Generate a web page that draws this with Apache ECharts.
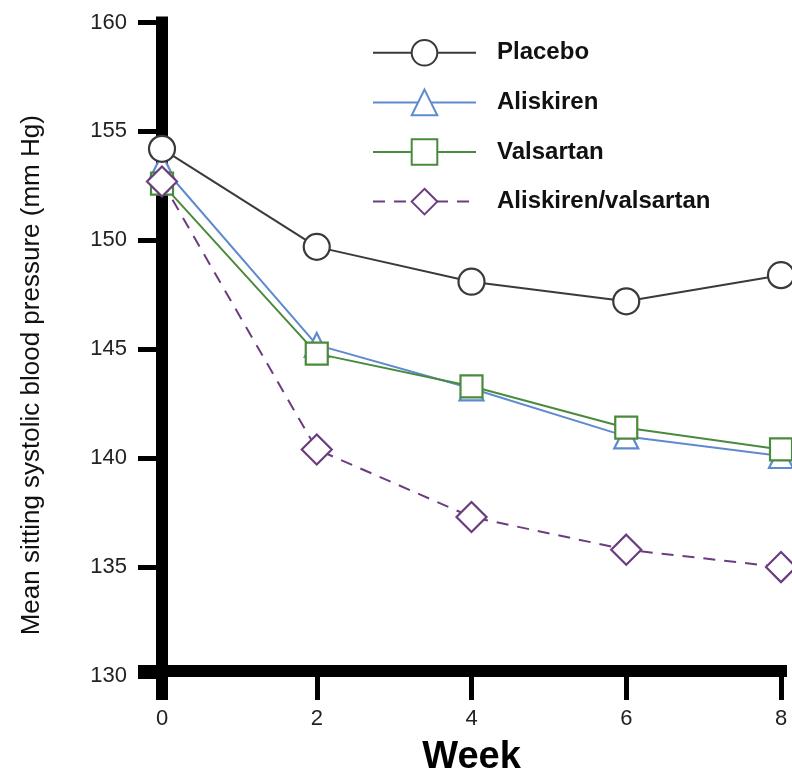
<!DOCTYPE html>
<html>
<head>
<meta charset="utf-8">
<script src="https://cdn.jsdelivr.net/npm/echarts@6/dist/echarts.min.js"></script>
<style>
html,body{margin:0;padding:0;background:#fff;}
#main{width:792px;height:771px;}
</style>
</head>
<body>
<div id="main"></div>
<script>
const weeks = [0, 2, 4, 6, 8];
const seriesNames = ['Placebo', 'Aliskiren', 'Valsartan', 'Aliskiren/valsartan'];
const placebo = [154.2, 149.7, 148.1, 147.2, 148.4];
const aliskiren = [153.4, 145.2, 143.2, 141.0, 140.1];
const valsartan = [152.6, 144.8, 143.3, 141.4, 140.4];
const combination = [152.7, 140.4, 137.3, 135.8, 135.0];
const yTicks = [130, 135, 140, 145, 150, 155, 160];
const xTicks = [0, 2, 4, 6, 8];

const FONT = '"Liberation Sans", Arial, sans-serif';
const chart = echarts.init(document.getElementById('main'), null, {renderer: 'canvas'});

function pairs(vals) { return weeks.map((w, i) => [w, vals[i]]); }

function makeSeries(name, vals, color, symbol, size, dashed, z) {
  return {
    name: name,
    type: 'line',
    data: pairs(vals),
    symbol: symbol,
    symbolSize: size,
    showAllSymbol: true,
    z: z,
    lineStyle: {color: color, width: 2, type: dashed ? [12, 9] : 'solid'},
    itemStyle: {color: '#fff', borderColor: color, borderWidth: 2.2},
    emphasis: {disabled: true},
    animation: false,
    clip: false
  };
}

const option = {
  backgroundColor: '#fff',
  animation: false,
  grid: {left: 162, right: 11, top: 22.5, bottom: 95, containLabel: false, outerBoundsMode: 'none'},
  legend: {
    orient: 'vertical',
    left: 372,
    top: 39,
    padding: 0,
    itemGap: 22,
    itemWidth: 103,
    itemHeight: 32,
    textStyle: {fontFamily: FONT, fontSize: 24, fontWeight: 'bold', color: '#111', padding: [0, 0, 0, 16]},
    data: seriesNames
  },
  xAxis: {
    type: 'value',
    min: 0, max: 8, interval: 2,
    offset: -5,
    name: 'Week',
    nameLocation: 'middle',
    nameGap: 68,
    nameTextStyle: {fontFamily: FONT, fontSize: 38, fontWeight: 'bold', color: '#000'},
    axisLine: {show: true, onZero: false, lineStyle: {color: '#000', width: 12, cap: 'square'}},
    axisTick: {show: true, length: 29, lineStyle: {color: '#000', width: 5}},
    axisLabel: {margin: 37, fontFamily: FONT, fontSize: 22, color: '#222',
      formatter: v => xTicks.includes(v) ? String(v) : ''},
    splitLine: {show: false}
  },
  yAxis: {
    type: 'value',
    min: 130, max: 160, interval: 5,
    name: 'Mean sitting systolic blood pressure (mm Hg)',
    nameLocation: 'middle',
    nameGap: 117,
    nameTextStyle: {fontFamily: FONT, fontSize: 26, color: '#111', padding: [0, 52, 0, 0]},
    axisLine: {show: true, onZero: false, lineStyle: {color: '#000', width: 12, cap: 'square'}},
    axisTick: {show: true, length: 24, lineStyle: {color: '#000', width: 5}},
    axisLabel: {margin: 35, fontFamily: FONT, fontSize: 22, color: '#222',
      formatter: v => yTicks.includes(v) ? String(v) : ''},
    splitLine: {show: false}
  },
  series: [
    makeSeries('Placebo', placebo, '#3a3a3a', 'circle', 26, false, 5),
    makeSeries('Aliskiren', aliskiren, '#5f8ad0', 'triangle', 24, false, 3),
    makeSeries('Valsartan', valsartan, '#4a8a3c', 'rect', 22, false, 4),
    makeSeries('Aliskiren/valsartan', combination, '#6c3c80', 'diamond', 30, true, 6)
  ]
};
chart.setOption(option);

// Extend the thick axis lines past their crossing (GraphPad-style corner)
const origin = chart.convertToPixel({gridIndex: 0}, [0, 130]);
const xLineY = origin[1] - 5;
chart.setOption({
  graphic: [
    {type: 'rect', shape: {x: origin[0] - 24, y: xLineY - 6, width: 30, height: 12}, style: {fill: '#000'}, silent: true},
    {type: 'rect', shape: {x: origin[0] - 6, y: xLineY - 6, width: 12, height: 35}, style: {fill: '#000'}, silent: true}
  ]
});
</script>
</body>
</html>
